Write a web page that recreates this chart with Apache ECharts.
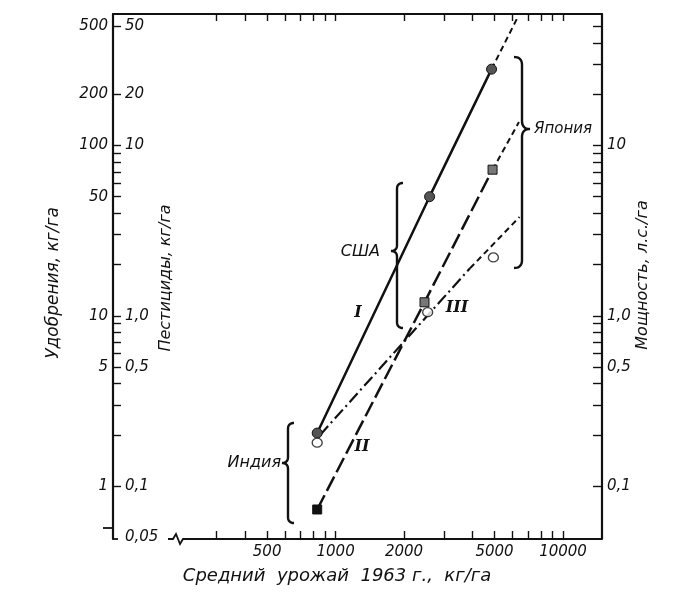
<!DOCTYPE html>
<html>
<head>
<meta charset="utf-8">
<script src="https://cdn.jsdelivr.net/npm/echarts@6/dist/echarts.min.js"></script>
<style>
  html, body { margin: 0; padding: 0; background: #fff; }
  #main { width: 694px; height: 605px; }
</style>
</head>
<body>
<div id="main"></div>
<script>
// ---- values ----
var xTicks = [300, 400, 500, 600, 700, 800, 900, 1000, 2000, 3000, 4000, 5000, 6000, 7000, 8000, 9000, 10000];
var xLabels = [500, 1000, 2000, 5000, 10000];

var fertTicks = [1, 2, 3, 4, 5, 6, 7, 8, 9, 10, 20, 30, 40, 50, 60, 70, 80, 90, 100, 200, 500];
var fertLabels = [1, 5, 10, 50, 100, 200, 500];
var pestLabels = [0.05, 0.1, 0.5, 1, 10, 20, 50];
var pestLabelText = ['0,05', '0,1', '0,5', '1,0', '10', '20', '50'];
var powerTicks = [0.1, 0.2, 0.3, 0.4, 0.5, 0.6, 0.7, 0.8, 0.9, 1, 2, 3, 4, 5, 6, 7, 8, 9, 10, 20, 30, 40, 50];
var powerLabels = [0.1, 0.5, 1, 10];
var powerLabelText = ['0,1', '0,5', '1,0', '10'];

// I - удобрения (Индия, США, Япония)
var fertYield = [830, 2590, 4850];
var fertilizer = [2.05, 50, 280];
var fertExtYield = [4850, 6300];
var fertExt = [280, 560];

// II - мощность
var powerYield = [830, 2460, 4900];
var power = [0.073, 1.2, 7.2];
var powerExtYield = [4900, 6400];
var powerExt = [7.2, 13.7];

// III - пестициды
var pestYield = [830, 2540, 4940];
var pesticide = [0.18, 1.05, 2.2];
var pestFitYield = [855, 3900];
var pestFit = [0.2, 1.9];
var pestExtYield = [3900, 6440];
var pestExt = [1.9, 3.8];

function pairs(xs, ys) {
  return xs.map(function (x, i) { return [x, ys[i]]; });
}
function lookup(vals, texts) {
  return function (v) {
    for (var i = 0; i < vals.length; i++) {
      if (Math.abs(v / vals[i] - 1) < 1e-6) return texts ? texts[i] : String(vals[i]);
    }
    return '';
  };
}
// кривая Безье -> точки
function quad(p0, p1, p2, pts) {
  for (var t = 0.1; t <= 1.0001; t += 0.1) {
    var a = (1 - t) * (1 - t), b = 2 * (1 - t) * t, c = t * t;
    pts.push([a * p0[0] + b * p1[0] + c * p2[0], a * p0[1] + b * p1[1] + c * p2[1]]);
  }
}
// фигурная скобка: dir -1 = остриём влево, 1 = вправо
function brace(x, y1, y2, ym, dir, w) {
  var e = x - dir * w, p = x + dir * w;
  var pts = [[e, y1]];
  quad([e, y1], [x, y1], [x, y1 + w], pts);
  pts.push([x, ym - w]);
  quad([x, ym - w], [x, ym], [p, ym], pts);
  quad([p, ym], [x, ym], [x, ym + w], pts);
  pts.push([x, y2 - w]);
  quad([x, y2 - w], [x, y2], [e, y2], pts);
  return { type: 'polyline', z: 10, shape: { points: pts }, style: { stroke: '#111', lineWidth: 2.4, fill: null } };
}

var FONT = 'DejaVu Sans';
var labelStyle = { color: '#111', fontFamily: FONT, fontStyle: 'italic', fontSize: 15 };
var lineCol = '#111';

var chart = echarts.init(document.getElementById('main'));

var option = {
  animation: false,
  backgroundColor: '#fff',
  grid: { left: 113, right: 92, top: 14, bottom: 66 },
  xAxis: [{
    type: 'log', position: 'bottom', min: 105, max: 14840,
    axisLine: { show: false },
    axisTick: { show: true, inside: true, length: 8, customValues: xTicks, lineStyle: { color: lineCol, width: 1.4 } },
    minorTick: { show: false },
    splitLine: { show: false },
    axisLabel: Object.assign({ customValues: xLabels, margin: 6, formatter: lookup(xLabels) }, labelStyle)
  }, {
    type: 'log', position: 'top', min: 105, max: 14840,
    axisLine: { show: true, lineStyle: { color: lineCol, width: 1.8 } },
    axisTick: { show: true, inside: true, length: 7, customValues: xTicks, lineStyle: { color: lineCol, width: 1.4 } },
    splitLine: { show: false },
    axisLabel: { show: false }
  }],
  yAxis: [{
    // удобрения
    type: 'log', position: 'left', min: 0.49, max: 590,
    axisLine: { show: true, lineStyle: { color: lineCol, width: 2.2 } },
    axisTick: { show: true, inside: true, length: 8, customValues: fertTicks, lineStyle: { color: lineCol, width: 1.4 } },
    splitLine: { show: false },
    axisLabel: Object.assign({ customValues: fertLabels, margin: 5, formatter: lookup(fertLabels) }, labelStyle)
  }, {
    // пестициды
    type: 'log', position: 'left', min: 0.049, max: 59,
    axisLine: { show: false },
    axisTick: { show: false },
    splitLine: { show: false },
    axisLabel: Object.assign({ inside: true, customValues: pestLabels, margin: 12, formatter: lookup(pestLabels, pestLabelText) }, labelStyle)
  }, {
    // мощность
    type: 'log', position: 'right', min: 0.049, max: 59,
    axisLine: { show: true, lineStyle: { color: lineCol, width: 2.2 } },
    axisTick: { show: true, inside: true, length: 9, customValues: powerTicks, lineStyle: { color: lineCol, width: 1.4 } },
    splitLine: { show: false },
    axisLabel: Object.assign({ customValues: powerLabels, margin: 5, formatter: lookup(powerLabels, powerLabelText) }, labelStyle)
  }],
  series: [
    {
      name: 'I', type: 'line', xAxisIndex: 0, yAxisIndex: 0, z: 5,
      data: pairs(fertYield, fertilizer),
      lineStyle: { color: lineCol, width: 2.5 },
      symbol: 'circle', symbolSize: 10,
      itemStyle: { color: '#555', borderColor: '#111', borderWidth: 1 }
    },
    {
      name: 'I ext', type: 'line', xAxisIndex: 0, yAxisIndex: 0, z: 4,
      data: pairs(fertExtYield, fertExt), showSymbol: false, symbol: 'none',
      lineStyle: { color: lineCol, width: 2, type: [6, 4] }
    },
    {
      name: 'II', type: 'line', xAxisIndex: 0, yAxisIndex: 2, z: 5,
      data: pairs(powerYield, power).map(function (d, i) {
        return { value: d, itemStyle: { color: i === 0 ? '#111' : '#777' } };
      }),
      lineStyle: { color: lineCol, width: 2.5, type: [16, 5] },
      symbol: 'rect', symbolSize: 9,
      itemStyle: { borderColor: '#111', borderWidth: 1 }
    },
    {
      name: 'II ext', type: 'line', xAxisIndex: 0, yAxisIndex: 2, z: 4,
      data: pairs(powerExtYield, powerExt), showSymbol: false, symbol: 'none',
      lineStyle: { color: lineCol, width: 2, type: [6, 4] }
    },
    {
      name: 'III', type: 'line', xAxisIndex: 0, yAxisIndex: 1, z: 4,
      data: pairs(pestFitYield, pestFit), showSymbol: false, symbol: 'none',
      lineStyle: { color: lineCol, width: 2.2, type: [12, 4, 2, 4] }
    },
    {
      name: 'III ext', type: 'line', xAxisIndex: 0, yAxisIndex: 1, z: 4,
      data: pairs(pestExtYield, pestExt), showSymbol: false, symbol: 'none',
      lineStyle: { color: lineCol, width: 2, type: [6, 4] }
    },
    {
      name: 'III pts', type: 'scatter', xAxisIndex: 0, yAxisIndex: 1, z: 6,
      data: pairs(pestYield, pesticide),
      symbol: 'circle', symbolSize: [10, 9],
      itemStyle: { color: '#fff', borderColor: '#111', borderWidth: 1.3 }
    }
  ],
  graphic: [
    // нижняя ось с разрывом
    { type: 'polyline', z: 10, shape: { points: [[168, 539], [173, 539], [176, 534], [180, 544], [183, 539], [602, 539]] },
      style: { stroke: lineCol, lineWidth: 1.8, fill: null } },
    { type: 'line', z: 10, shape: { x1: 103, y1: 528, x2: 113, y2: 528 }, style: { stroke: lineCol, lineWidth: 1.8 } },
    { type: 'line', z: 10, shape: { x1: 113, y1: 539, x2: 118, y2: 539 }, style: { stroke: lineCol, lineWidth: 1.8 } },
    // скобки
    brace(288, 423, 523, 463, -1, 6),
    brace(397, 183, 328, 251, -1, 6),
    brace(522, 57, 268, 129, 1, 8),
    // подписи
    { type: 'text', z: 10, x: 281, y: 463, style: { text: 'Индия', fill: '#111', font: 'italic 16px "DejaVu Sans"', align: 'right', verticalAlign: 'middle' } },
    { type: 'text', z: 10, x: 380, y: 252, style: { text: 'США', fill: '#111', font: 'italic 16px "DejaVu Sans"', align: 'right', verticalAlign: 'middle' } },
    { type: 'text', z: 10, x: 534, y: 129, style: { text: 'Япония', fill: '#111', font: 'italic 15px "DejaVu Sans"', align: 'left', verticalAlign: 'middle' } },
    { type: 'text', z: 10, x: 358, y: 313, style: { text: 'I', fill: '#111', font: 'italic bold 16px "DejaVu Serif"', align: 'center', verticalAlign: 'middle' } },
    { type: 'text', z: 10, x: 362, y: 447, style: { text: 'II', fill: '#111', font: 'italic bold 16px "DejaVu Serif"', align: 'center', verticalAlign: 'middle' } },
    { type: 'text', z: 10, x: 457, y: 308, style: { text: 'III', fill: '#111', font: 'italic bold 16px "DejaVu Serif"', align: 'center', verticalAlign: 'middle' } },
    // названия осей
    { type: 'text', z: 10, x: 337, y: 576, style: { text: 'Средний  урожай  1963 г.,  кг/га', fill: '#111', font: 'italic 18px "DejaVu Sans"', align: 'center', verticalAlign: 'middle' } },
    { type: 'text', z: 10, x: 54, y: 283, rotation: Math.PI / 2, style: { text: 'Удобрения, кг/га', fill: '#111', font: 'italic 17px "DejaVu Sans"', align: 'center', verticalAlign: 'middle' } },
    { type: 'text', z: 10, x: 166, y: 278, rotation: Math.PI / 2, style: { text: 'Пестициды, кг/га', fill: '#111', font: 'italic 16px "DejaVu Sans"', align: 'center', verticalAlign: 'middle' } },
    { type: 'text', z: 10, x: 643, y: 275, rotation: Math.PI / 2, style: { text: 'Мощность, л.с./га', fill: '#111', font: 'italic 16px "DejaVu Sans"', align: 'center', verticalAlign: 'middle' } }
  ]
};

chart.setOption(option);
</script>
</body>
</html>
